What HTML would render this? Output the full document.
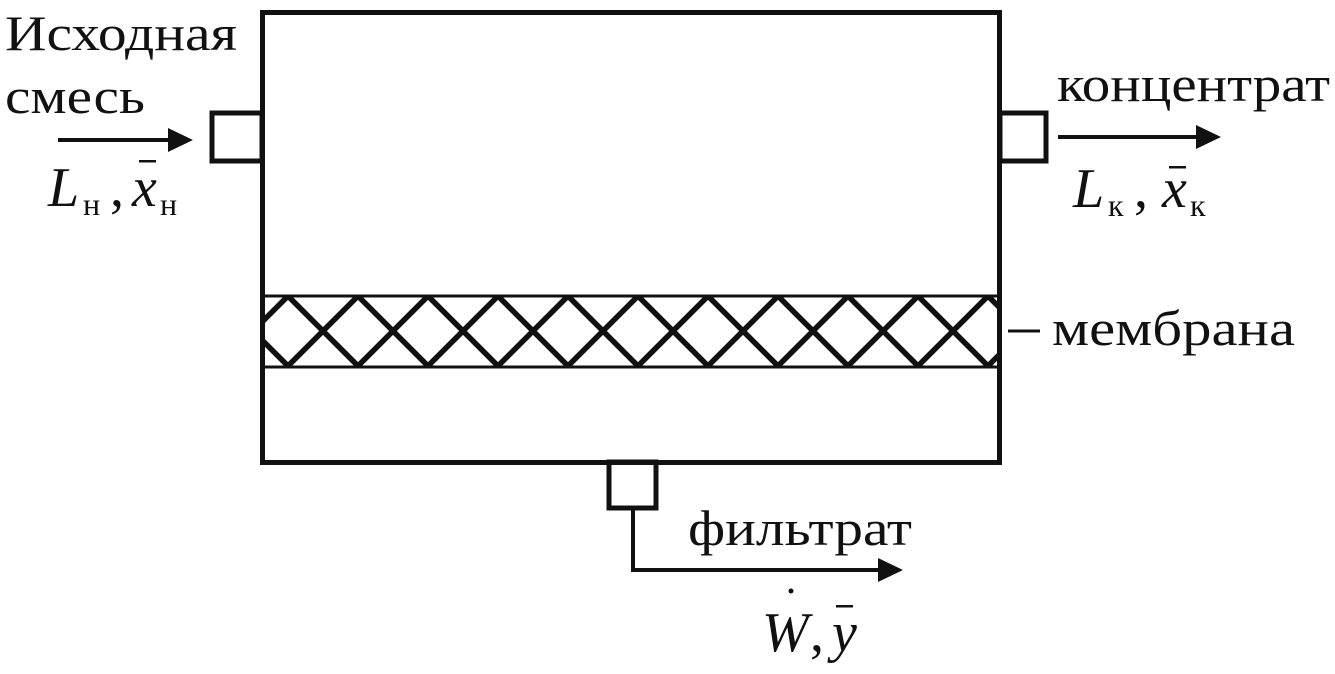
<!DOCTYPE html>
<html><head><meta charset="utf-8"><style>
html,body{margin:0;padding:0;background:#fff;}
svg{display:block;}
</style></head><body>
<svg width="1335" height="674" viewBox="0 0 1335 674" xmlns="http://www.w3.org/2000/svg" font-family="'Liberation Serif','Noto Serif CJK SC','DejaVu Serif',serif" fill="#111">
<defs>
<clipPath id="band"><rect x="262" y="297" width="736" height="69"/></clipPath>
</defs>
<g stroke="#111" fill="none">
<rect x="262.5" y="12.5" width="737" height="450" stroke-width="5"/>
<rect x="212" y="113" width="50" height="48" stroke-width="5"/>
<rect x="1000" y="113" width="46" height="48" stroke-width="5"/>
<rect x="609" y="462" width="47" height="46" stroke-width="5"/>
<rect x="262" y="296" width="737" height="71" stroke-width="3"/>
<g clip-path="url(#band)" stroke-width="5.5">
<path d="M218,296 l70,70 M288,296 l70,70 M358,296 l70,70 M428,296 l70,70 M498,296 l70,70 M568,296 l70,70 M638,296 l70,70 M708,296 l70,70 M778,296 l70,70 M848,296 l70,70 M918,296 l70,70 M988,296 l70,70"/>
<path d="M218,366 l70,-70 M288,366 l70,-70 M358,366 l70,-70 M428,366 l70,-70 M498,366 l70,-70 M568,366 l70,-70 M638,366 l70,-70 M708,366 l70,-70 M778,366 l70,-70 M848,366 l70,-70 M918,366 l70,-70 M988,366 l70,-70"/>
</g>
<path d="M58,140 H170" stroke-width="4"/>
<path d="M1058,137 H1198" stroke-width="4"/>
<path d="M633,508 V570 H880" stroke-width="4"/>
<path d="M1008,331 H1040" stroke-width="3"/>
</g>
<polygon points="168,128 193,140 168,152"/>
<polygon points="1196,125 1221,137 1196,149"/>
<polygon points="878,558 903,570 878,582"/>
<text x="5" y="50" font-size="50" textLength="232" lengthAdjust="spacingAndGlyphs">Исходная</text>
<text x="5" y="113" font-size="50" textLength="140" lengthAdjust="spacingAndGlyphs">смесь</text>
<text x="48" y="206" font-size="56" font-style="italic">L</text>
<text x="83" y="215" font-size="32">н</text>
<text x="110" y="206" font-size="56">,</text>
<text x="132" y="206" font-size="56" font-style="italic">x</text>
<rect x="139" y="160" width="17" height="2.5"/>
<text x="160" y="215" font-size="32">н</text>
<text x="1057" y="101" font-size="50" textLength="273" lengthAdjust="spacingAndGlyphs">концентрат</text>
<text x="1073" y="207" font-size="56" font-style="italic">L</text>
<text x="1108" y="216" font-size="32">к</text>
<text x="1134" y="207" font-size="56">,</text>
<text x="1162" y="207" font-size="56" font-style="italic">x</text>
<rect x="1169" y="166" width="17" height="2.5"/>
<text x="1190" y="216" font-size="32">к</text>
<text x="1052" y="345" font-size="50" textLength="243" lengthAdjust="spacingAndGlyphs">мембрана</text>
<text x="688" y="545" font-size="50" textLength="224" lengthAdjust="spacingAndGlyphs">фильтрат</text>
<text x="762" y="651" font-size="56" font-style="italic">W</text>
<circle cx="791" cy="591" r="2.5"/>
<text x="810" y="651" font-size="56">,</text>
<text x="832" y="651" font-size="56" font-style="italic">y</text>
<rect x="836" y="605" width="17" height="2.5"/>
</svg>
</body></html>
